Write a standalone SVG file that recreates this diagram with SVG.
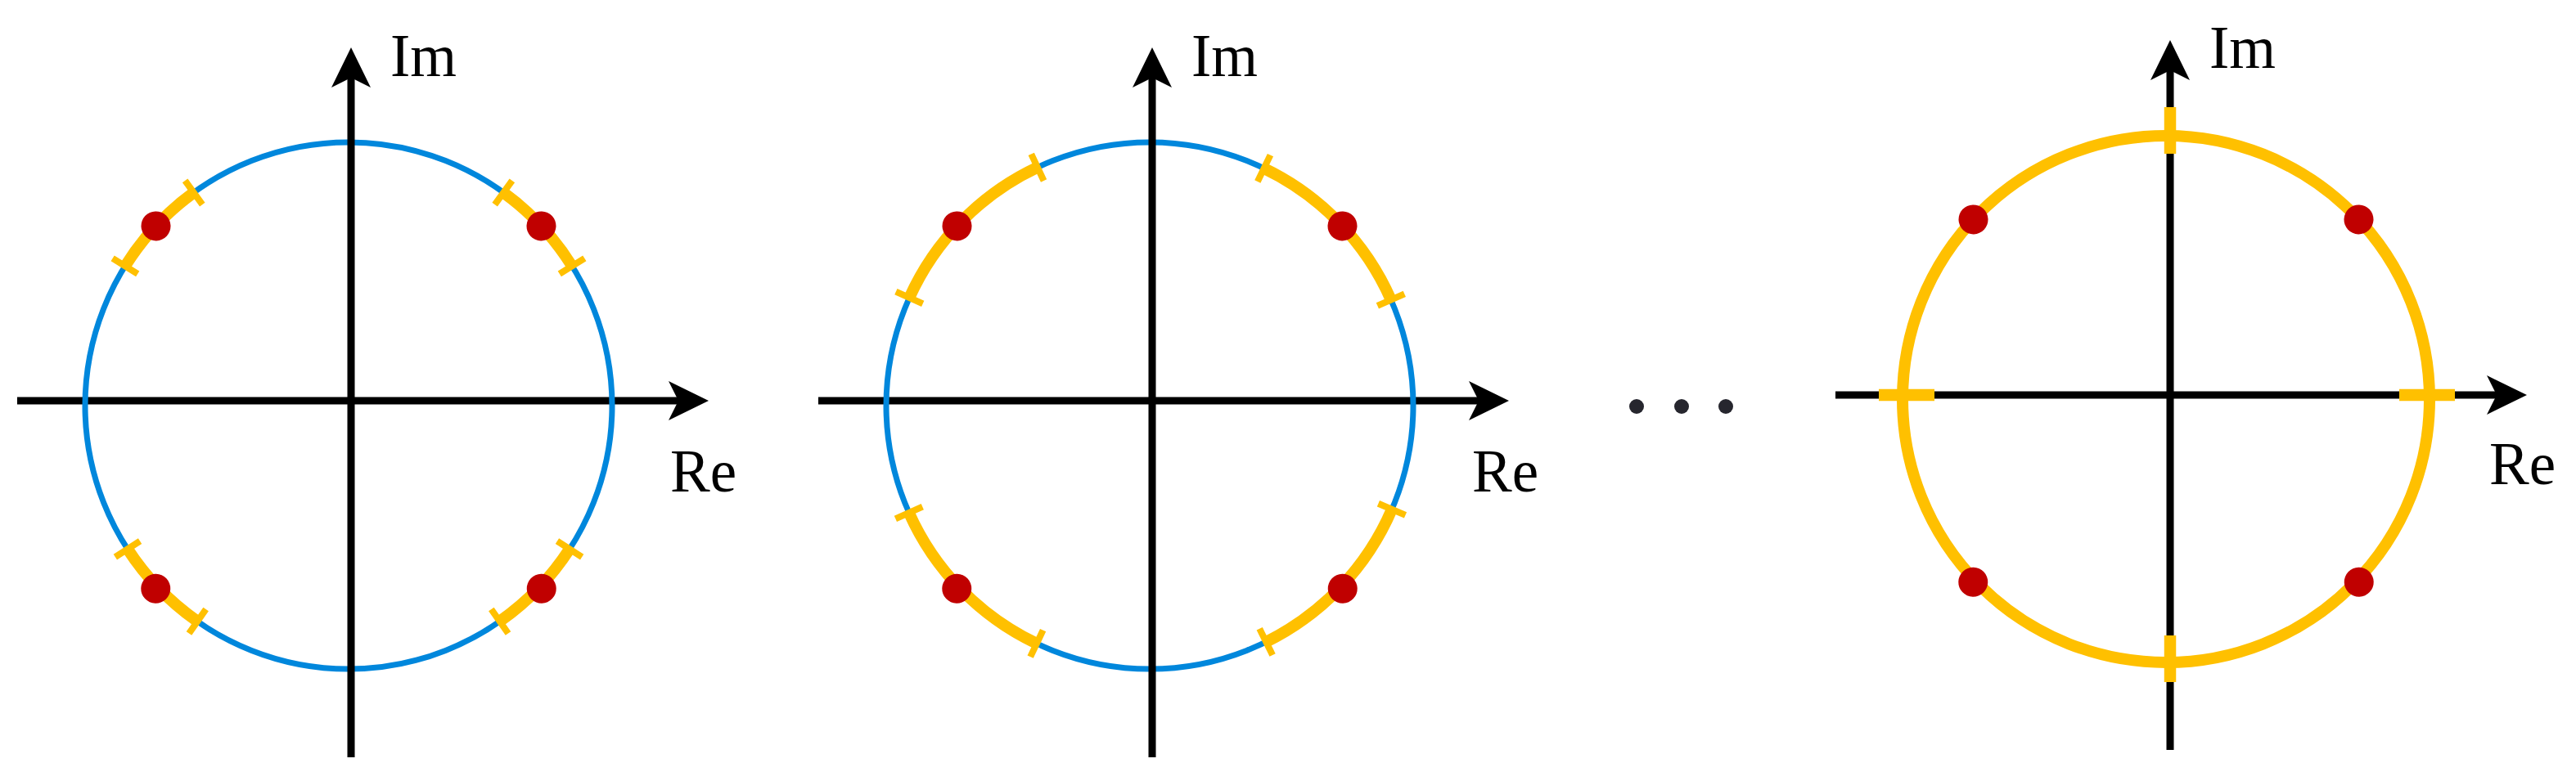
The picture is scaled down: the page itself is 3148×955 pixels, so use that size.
<svg xmlns="http://www.w3.org/2000/svg" width="3148" height="955" viewBox="0 0 3148 955">
  <style>
    .axis { stroke: #000; stroke-width: 9; fill: none; marker-end: url(#arr); }
    .unit { stroke: #0087DC; stroke-width: 7; fill: none; }
    .band { stroke: #FFC000; stroke-width: 14; fill: none; }
    .tick { stroke: #FFC000; stroke-width: 8; }
    .ftick { stroke: #FFC000; stroke-width: 14.5; }
    .pole { fill: #C00000; }
    .lbl { font-family: "Liberation Serif", "Times New Roman", serif; font-size: 73px; fill: #000; }
    .ell { fill: #26262E; }
  </style>
  <defs>
    <marker id="arr" markerUnits="userSpaceOnUse" markerWidth="49" markerHeight="48" viewBox="0 0 49 48" refX="12" refY="24" orient="auto" overflow="visible">
      <path d="M0,0 L49,24 L0,48 L12,24 Z" fill="#000"/>
    </marker>
    <path id="arc1" d="M316.08,-61.44 A322,322 0 0 1 316.08,61.44"/>
    <path id="arc2" d="M302.0,-111.7 A322,322 0 0 1 302.0,111.7"/>
  </defs>

  <g id="plane1">
    <line class="axis" x1="21" y1="490" x2="829" y2="490"/>
    <g transform="translate(426,496)">
      <circle class="unit" r="322"/>
    </g>
    <line class="axis" x1="429" y1="926" x2="429" y2="95"/>
    <g transform="translate(426,496)">
      <use href="#arc1" class="band" transform="rotate(-43)"/>
      <use href="#arc1" class="band" transform="rotate(-137)"/>
      <use href="#arc1" class="band" transform="rotate(-224)"/>
      <use href="#arc1" class="band" transform="rotate(-316)"/>
      <line class="tick" x1="304" y1="0" x2="340" y2="0" transform="rotate(-32)"/>
      <line class="tick" x1="304" y1="0" x2="340" y2="0" transform="rotate(-54)"/>
      <line class="tick" x1="304" y1="0" x2="340" y2="0" transform="rotate(-126)"/>
      <line class="tick" x1="304" y1="0" x2="340" y2="0" transform="rotate(-148)"/>
      <line class="tick" x1="304" y1="0" x2="340" y2="0" transform="rotate(-213)"/>
      <line class="tick" x1="304" y1="0" x2="340" y2="0" transform="rotate(-235)"/>
      <line class="tick" x1="304" y1="0" x2="340" y2="0" transform="rotate(-305)"/>
      <line class="tick" x1="304" y1="0" x2="340" y2="0" transform="rotate(-327)"/>
      <circle class="pole" cx="322" cy="0" r="18" transform="rotate(-43)"/>
      <circle class="pole" cx="322" cy="0" r="18" transform="rotate(-137)"/>
      <circle class="pole" cx="325" cy="0" r="18" transform="rotate(-223.5)"/>
      <circle class="pole" cx="325" cy="0" r="18" transform="rotate(-316.5)"/>
    </g>
    <text class="lbl" x="477" y="93">Im</text>
    <text class="lbl" x="819" y="601">Re</text>
  </g>

  <g id="plane2">
    <line class="axis" x1="1000" y1="490" x2="1807" y2="490"/>
    <g transform="translate(1405,496)">
      <circle class="unit" r="322"/>
    </g>
    <line class="axis" x1="1408" y1="926" x2="1408" y2="95"/>
    <g transform="translate(1405,496)">
      <use href="#arc2" class="band" transform="rotate(-44)"/>
      <use href="#arc2" class="band" transform="rotate(-135.5)"/>
      <use href="#arc2" class="band" transform="rotate(-224.3)"/>
      <use href="#arc2" class="band" transform="rotate(-316.5)"/>
      <line class="tick" x1="304" y1="0" x2="340" y2="0" transform="rotate(-23.7)"/>
      <line class="tick" x1="304" y1="0" x2="340" y2="0" transform="rotate(-64.3)"/>
      <line class="tick" x1="304" y1="0" x2="340" y2="0" transform="rotate(-115.2)"/>
      <line class="tick" x1="304" y1="0" x2="340" y2="0" transform="rotate(-155.8)"/>
      <line class="tick" x1="304" y1="0" x2="340" y2="0" transform="rotate(-204)"/>
      <line class="tick" x1="304" y1="0" x2="340" y2="0" transform="rotate(-244.6)"/>
      <line class="tick" x1="304" y1="0" x2="340" y2="0" transform="rotate(-296.2)"/>
      <line class="tick" x1="304" y1="0" x2="340" y2="0" transform="rotate(-336.8)"/>
      <circle class="pole" cx="322" cy="0" r="18" transform="rotate(-43)"/>
      <circle class="pole" cx="322" cy="0" r="18" transform="rotate(-137)"/>
      <circle class="pole" cx="325" cy="0" r="18" transform="rotate(-223.5)"/>
      <circle class="pole" cx="325" cy="0" r="18" transform="rotate(-316.5)"/>
    </g>
    <text class="lbl" x="1456" y="93">Im</text>
    <text class="lbl" x="1799" y="601">Re</text>
  </g>

  <g id="ellipsis">
    <circle class="ell" cx="2000" cy="497" r="9"/>
    <circle class="ell" cx="2055" cy="497" r="9"/>
    <circle class="ell" cx="2109" cy="497" r="9"/>
  </g>

  <g id="plane3">
    <line class="axis" x1="2243" y1="483" x2="3051" y2="483"/>
    <circle class="band" cx="2647" cy="488" r="322"/>
    <line class="axis" x1="2652" y1="917" x2="2652" y2="86"/>
    <line class="ftick" x1="2652" y1="131" x2="2652" y2="188"/>
    <line class="ftick" x1="2652" y1="777" x2="2652" y2="834"/>
    <line class="ftick" x1="2296" y1="483" x2="2364" y2="483"/>
    <line class="ftick" x1="2932" y1="483" x2="3000" y2="483"/>
    <g transform="translate(2647,488)">
      <circle class="pole" cx="322" cy="0" r="18" transform="rotate(-43)"/>
      <circle class="pole" cx="322" cy="0" r="18" transform="rotate(-137)"/>
      <circle class="pole" cx="325" cy="0" r="18" transform="rotate(-223.5)"/>
      <circle class="pole" cx="325" cy="0" r="18" transform="rotate(-316.5)"/>
    </g>
    <text class="lbl" x="2700" y="83">Im</text>
    <text class="lbl" x="3042" y="592">Re</text>
  </g>
</svg>
